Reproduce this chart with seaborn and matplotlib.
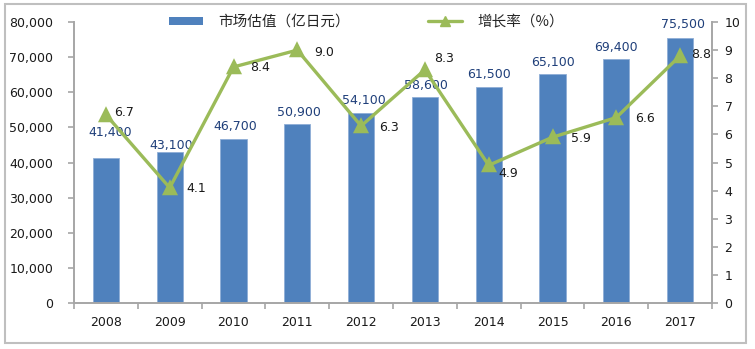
import matplotlib
matplotlib.use('Agg')
import matplotlib.pyplot as plt
import seaborn as sns
import pandas as pd
import numpy as np
from matplotlib.patches import Patch, Rectangle
from matplotlib.lines import Line2D
from matplotlib.ticker import FuncFormatter
from matplotlib.font_manager import FontProperties

# ---- data ----
years = ['2008', '2009', '2010', '2011', '2012', '2013', '2014', '2015', '2016', '2017']
market = [41400, 43100, 46700, 50900, 54100, 58600, 61500, 65100, 69400, 75500]
growth = [6.7, 4.1, 8.4, 9.0, 6.3, 8.3, 4.9, 5.9, 6.6, 8.8]
bar_name = '市场估值（亿日元）'
line_name = '增长率（%）'
left_ticks = [0, 10000, 20000, 30000, 40000, 50000, 60000, 70000, 80000]
right_ticks = [0, 1, 2, 3, 4, 5, 6, 7, 8, 9, 10]

# label offsets (pixels) - styling only
bar_off = [(4, 25), (1, 6), (2, 12), (2, 12), (3, 12), (1, 12), (0, 12), (0, 12), (0, 12), (3, 13)]
line_off = [(8, 2), (17, -1), (17, -1), (17, -2), (18, -2), (9, 11), (10, -8), (19, -1), (19, -1), (11, 1)]

BAR_C = '#4F81BD'
LINE_C = '#9BBB59'
SPINE_C = '#A6A6A6'
TXT_C = '#1a1a1a'
BARLBL_C = '#1F3F7A'
FS = 9

sns.set_theme(style='white')
plt.rcParams['font.family'] = ['DejaVu Sans', 'Noto Sans CJK SC']

df = pd.DataFrame({'year': years, 'market': market, 'growth': growth})

W, H = 755, 349
fig = plt.figure(figsize=(W / 100, H / 100), dpi=100)
ax = fig.add_axes([74 / W, 1 - 303 / H, (712 - 74) / W, (303 - 22) / H])

sns.barplot(data=df, x='year', y='market', color=BAR_C, saturation=1, width=0.41,
            edgecolor='#8FAED6', linewidth=0.6, ax=ax)

ax2 = ax.twinx()
sns.pointplot(data=df, x='year', y='growth', color=LINE_C, markers='^', linestyles='-',
              markersize=8.5, linewidth=2.4, ax=ax2)

ax.set_xlim(-0.5, len(years) - 0.5)
ax2.set_xlim(-0.5, len(years) - 0.5)
ax.set_ylim(0, 80000)
ax2.set_ylim(0, 10)
ax.set_yticks(left_ticks)
ax2.set_yticks(right_ticks)
ax.yaxis.set_major_formatter(FuncFormatter(lambda v, p: f'{int(v):,}'))
ax.set_xlabel('')
ax.set_ylabel('')
ax2.set_ylabel('')
ax2.set_xlabel('')

ax.set_xticks(range(len(years)))
ax.set_xticklabels(years)
ax.set_xticks(np.arange(-0.5, len(years), 1), minor=True)

ax.tick_params(axis='x', which='major', length=0, pad=9, labelsize=FS, labelcolor=TXT_C, bottom=False)
ax.tick_params(axis='x', which='minor', length=4, color=SPINE_C, width=1.2, bottom=True, direction='out')
ax.tick_params(axis='y', which='major', length=4, color=SPINE_C, width=1.2, left=True,
               direction='out', pad=11, labelsize=FS, labelcolor=TXT_C)
ax2.tick_params(axis='y', which='major', length=4, color=SPINE_C, width=1.2, right=True,
                direction='out', pad=5, labelsize=FS, labelcolor=TXT_C)
ax2.tick_params(axis='x', bottom=False, top=False, labelbottom=False)

for s in ['top', 'right']:
    ax.spines[s].set_visible(False)
for s in ['left', 'bottom']:
    ax.spines[s].set_color(SPINE_C)
    ax.spines[s].set_linewidth(1.4)
for s in ['top', 'left', 'bottom']:
    ax2.spines[s].set_visible(False)
ax2.spines['right'].set_color(SPINE_C)
ax2.spines['right'].set_linewidth(1.4)
ax.grid(False)
ax2.grid(False)

# bar labels
for i, v in enumerate(market):
    dx, dy = bar_off[i]
    ax.annotate(f'{v:,}', xy=(i, v), xytext=(dx * 0.72, dy * 0.72), textcoords='offset points',
                ha='center', va='center', fontsize=FS, color=BARLBL_C)

# line labels
for i, v in enumerate(growth):
    dx, dy = line_off[i]
    ax2.annotate(f'{v:.1f}', xy=(i, v), xytext=(dx * 0.72, dy * 0.72), textcoords='offset points',
                 ha='left', va='center', fontsize=FS, color=TXT_C)

# legend
handles = [Patch(facecolor=BAR_C, edgecolor='none'),
           Line2D([], [], color=LINE_C, lw=2.4, marker='^', markersize=7.5)]
fig.legend(handles, [bar_name, line_name], ncol=2, loc='center left',
           bbox_to_anchor=(169 / W, 1 - 22 / H), frameon=False, borderpad=0, borderaxespad=0,
           handlelength=2.3, handleheight=0.45, handletextpad=1.05, columnspacing=5.4,
           prop=FontProperties(family=['Noto Sans CJK SC', 'DejaVu Sans'], size=10.5))

# outer border
fig.patches.append(Rectangle((5 / W, 1 - 343 / H), 741 / W, 339 / H, transform=fig.transFigure,
                             fill=False, edgecolor='#BFBFBF', linewidth=1.5))

fig.savefig('out.png', dpi=100)
